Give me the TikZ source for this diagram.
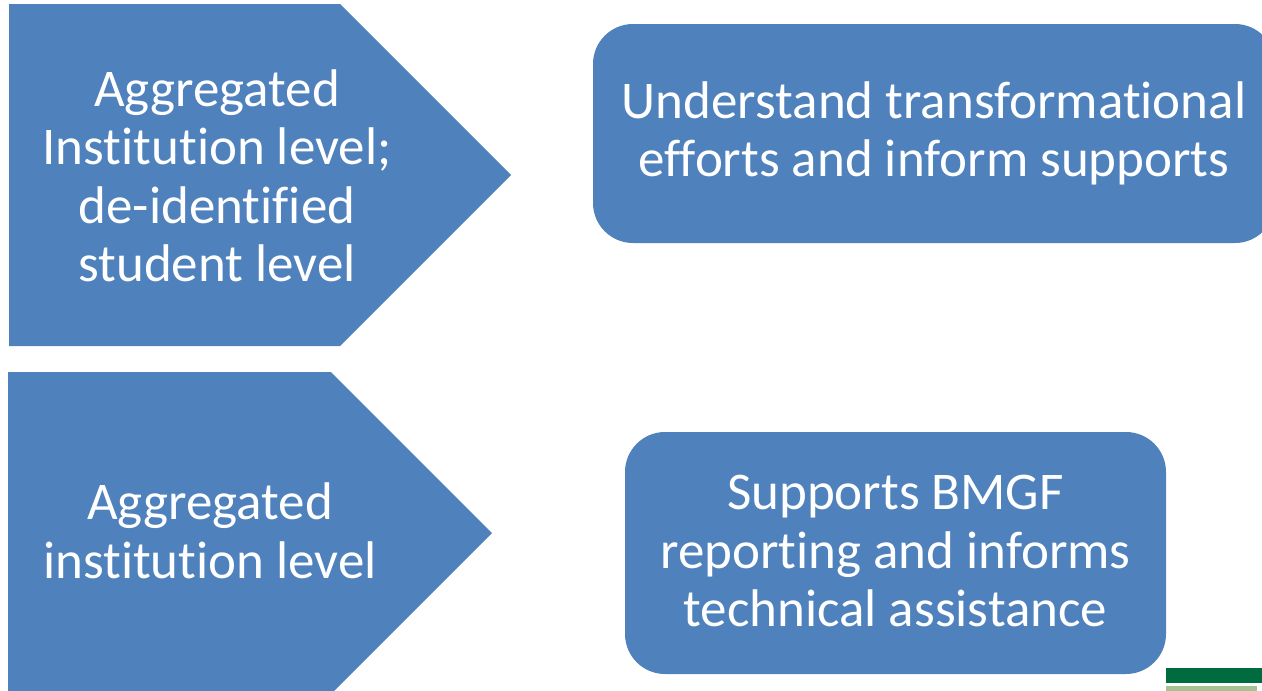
\documentclass[tikz,border=0pt]{standalone}
\usepackage{fontspec}
\setmainfont{Carlito}[Ligatures={NoCommon}]
\definecolor{boxblue}{HTML}{4F81BD}
\definecolor{darkgreen}{HTML}{006B3F}
\definecolor{lightgreen}{HTML}{A6C291}
\tikzset{
  shapefill/.style={fill=boxblue, draw=none},
  lbl/.style={text=white, align=center, font=\fontsize{53}{58.5}\selectfont, inner sep=0pt},
  roundbox/.style={shapefill, rounded corners=40pt, inner sep=0pt},
}
\begin{document}
\begin{tikzpicture}[x=1pt,y=-1pt]
\useasboundingbox (0,0) rectangle (1262,691);
% top pentagon
\fill[boxblue] (9,4) -- (340,4) -- (511,175) -- (340,346) -- (9,346) -- cycle;
\node[lbl] (t1) at (217,176) {Aggregated\\Institution level;\\de-identified\\student level};
% bottom pentagon
\fill[boxblue] (8,372) -- (331,372) -- (492,533) -- (331,694) -- (8,694) -- cycle;
\node[lbl] (t2) at (210,531) {Aggregated\\institution level};
% rounded boxes
\node[roundbox, minimum width=682pt, minimum height=219pt] (r1) at (934,133.5) {};
\node[lbl] (t3) at (r1.center) {Understand transformational\\efforts and inform supports};
\node[roundbox, minimum width=541pt, minimum height=242pt] (r2) at (895.5,553) {};
\node[lbl] (t4) at (895.5,551) {Supports BMGF\\reporting and informs\\technical assistance};
% green bars
\fill[darkgreen] (1166,668) rectangle (1262,683);
\fill[lightgreen] (1166,686) rectangle (1257,691);
\end{tikzpicture}
\end{document}
